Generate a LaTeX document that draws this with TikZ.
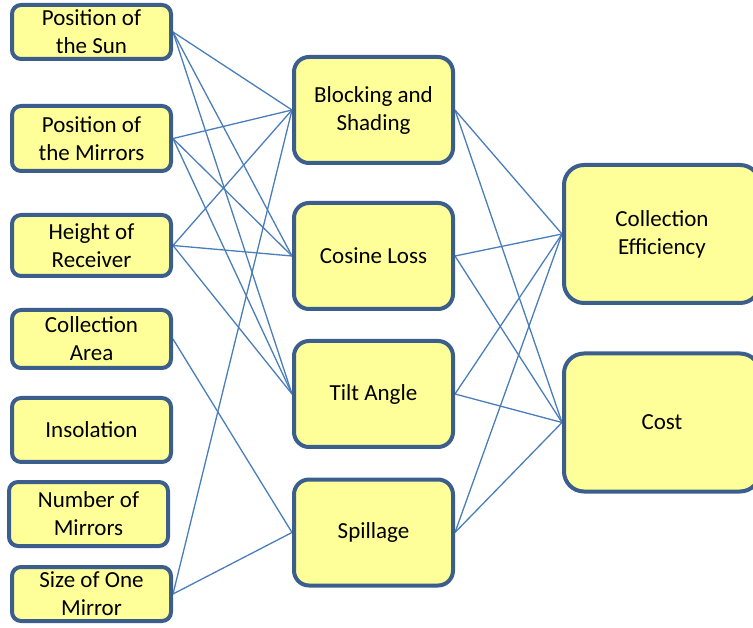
\documentclass[tikz,border=0pt]{standalone}
\usepackage{fontspec}
\setmainfont{Carlito}
\usetikzlibrary{backgrounds}
\definecolor{boxfill}{HTML}{FFFF99}
\definecolor{boxdraw}{HTML}{3B5E8C}
\definecolor{linkc}{HTML}{4A7EBB}
\tikzset{
  box/.style={draw=boxdraw, fill=boxfill, line width=4pt, align=center,
    font=\fontsize{23}{28}\selectfont, inner sep=0pt},
  leftbox/.style={box, rounded corners=9pt, minimum width=159pt},
  midbox/.style={box, rounded corners=15pt, minimum width=159pt, minimum height=106pt},
  rightbox/.style={box, rounded corners=20pt, minimum width=196pt, minimum height=138pt},
  link/.style={draw=linkc, line width=1.3pt}
}
\begin{document}
\begin{tikzpicture}[x=1pt,y=-1pt]
\useasboundingbox (0,0) rectangle (753,628);
% left column
\node[leftbox, minimum height=54pt] (sun) at (91.5,32) {Position of\\the Sun};
\node[leftbox, minimum height=65pt] (mir) at (91.5,138.5) {Position of\\the Mirrors};
\node[leftbox, minimum height=61pt] (rec) at (91.5,245.5) {Height of\\Receiver};
\node[leftbox, minimum height=58pt] (area) at (91.5,339) {Collection\\Area};
\node[leftbox, minimum height=64pt] (ins) at (91.5,430) {Insolation};
\node[leftbox, minimum height=64pt] (num) at (88.5,514) {Number of\\Mirrors};
\node[leftbox, minimum height=54pt] (size) at (91.5,594) {Size of One\\Mirror};
% middle column
\node[midbox] (block) at (373.5,110) {Blocking and\\Shading};
\node[midbox] (cos) at (373.5,256) {Cosine Loss};
\node[midbox] (tilt) at (373.5,394) {Tilt Angle};
\node[midbox] (spill) at (373.5,532.5) {Spillage};
% right column
\node[rightbox] (eff) at (662,234) {Collection\\Efficiency};
\node[rightbox] (cost) at (662,422.5) {Cost};
\begin{pgfonlayer}{background}
\foreach \a in {sun,mir,rec}{
  \foreach \b in {block,cos,tilt}{
    \draw[link] (\a.east) -- (\b.west);
  }
}
\draw[link] (size.east) -- (block.west);
\draw[link] (size.east) -- (spill.west);
\draw[link] (area.east) -- (spill.west);
\foreach \a in {block,cos,tilt,spill}{
  \foreach \b in {eff,cost}{
    \draw[link] (\a.east) -- (\b.west);
  }
}
\end{pgfonlayer}
\end{tikzpicture}
\end{document}
